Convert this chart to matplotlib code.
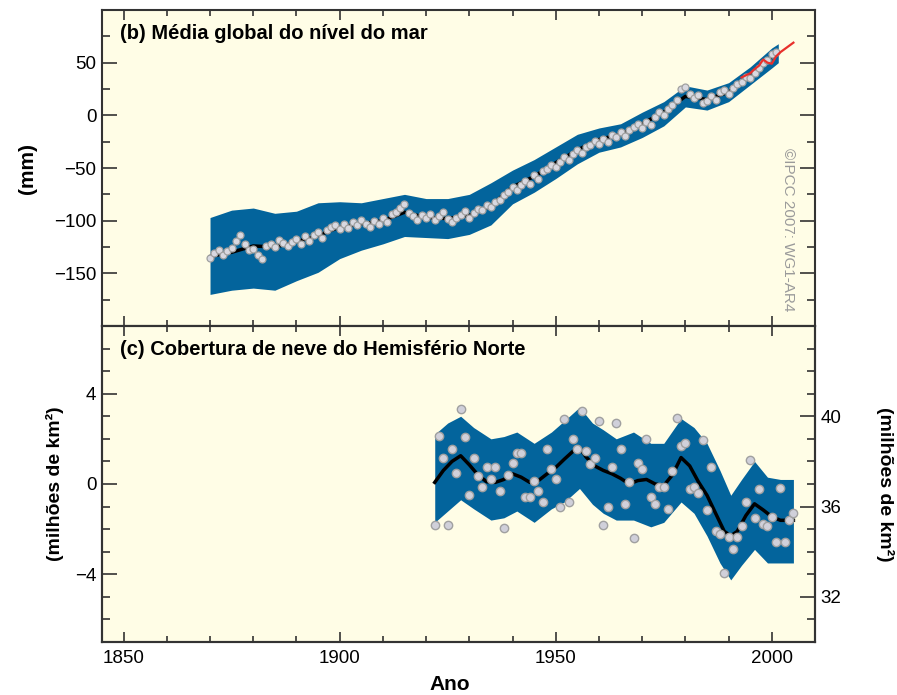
import numpy as np
import matplotlib.pyplot as plt
from matplotlib.ticker import MultipleLocator, FixedLocator

plt.rcParams['font.family'] = ['Liberation Sans', 'DejaVu Sans']

# (b) global mean sea level, mm
seaYears = list(range(1870, 2002))
seaPoints = [-135, -131, -128, -133, -129, -126, -119, -114, -122, -128,
             -127, -133, -136, -124, -122, -125, -118, -121, -124, -120,
             -117, -122, -115, -119, -114, -111, -116, -109, -106, -104,
             -108, -103, -107, -101, -104, -99, -103, -106, -100, -103,
             -97, -101, -94, -92, -88, -84, -93, -96, -99, -95,
             -97, -94, -99, -96, -92, -98, -101, -97, -95, -91,
             -97, -93, -89, -90, -85, -87, -82, -80, -76, -73,
             -68, -71, -66, -62, -65, -57, -60, -53, -51, -47,
             -49, -44, -40, -42, -37, -33, -36, -30, -28, -24,
             -27, -22, -25, -19, -21, -16, -20, -14, -11, -8,
             -12, -6, -9, -2, 3, 0, 6, 10, 15, 25,
             27, 20, 16, 19, 12, 14, 18, 15, 22, 24,
             20, 26, 30, 32, 36, 35, 40, 45, 50, 53,
             58, 60]
seaBandYears = [1870, 1875, 1880, 1885, 1890, 1895, 1900, 1905, 1910, 1915,
                1920, 1925, 1930, 1935, 1940, 1945, 1950, 1955, 1960, 1965,
                1970, 1975, 1980, 1985, 1990, 1995, 2000, 2001.5]
seaMean = [-134, -130, -124, -125, -120, -114, -106, -103, -100, -92,
           -97, -98, -95, -86, -68, -58, -45, -33, -23, -18,
           -8, 3, 18, 15, 22, 38, 56, 60]
seaTop = [-97, -90, -88, -93, -91, -83, -82, -83, -79, -75,
          -79, -79, -75, -64, -52, -42, -30, -18, -12, -8,
          3, 13, 28, 24, 31, 46, 64, 68]
seaBottom = [-170, -166, -164, -166, -157, -149, -136, -128, -122, -115,
             -116, -117, -113, -104, -84, -73, -60, -46, -35, -30,
             -21, -10, 8, 5, 13, 29, 45, 50]
satYears = list(range(1993, 2006))
satLevel = [36, 38, 40, 44, 47, 53, 50, 49, 56, 60, 63, 66, 69]

# (c) Northern Hemisphere snow cover anomaly, million km2
snowYears = list(range(1922, 2006))
snowPoints = [-1.83, 2.12, 1.13, -1.83, 1.57, 0.48, 3.30, 2.08, -0.48, 1.17,
              0.34, -0.12, 0.73, 0.22, 0.73, -0.29, -1.95, 0.40, 0.95, 1.36,
              1.36, -0.59, -0.59, 0.15, -0.29, -0.78, 1.57, 0.66, 0.22, -1.03,
              2.89, -0.81, 1.98, 1.57, 3.22, 1.47, 0.88, 1.13, 2.78, -1.80,
              -1.03, 0.73, 2.71, 1.54, -0.88, 0.10, -2.39, 0.95, 0.66, 2.00,
              -0.59, -0.88, -0.15, -0.15, -1.10, 0.59, 2.93, 1.68, 1.83, -0.22,
              -0.15, -0.41, 1.95, -1.17, 0.73, -2.10, -2.20, -3.96, -2.34, -2.86,
              -2.34, -1.88, -0.78, 1.05, -1.51, -0.22, -1.76, -1.88, -1.47, -2.56,
              -0.19, -2.56, -1.60, -1.27]
snowLineYears = [1922, 1924, 1926, 1928, 1930, 1932, 1934, 1936, 1938, 1940,
                 1942, 1944, 1946, 1948, 1950, 1952, 1954, 1955.5, 1957, 1959,
                 1961, 1963, 1965, 1967, 1969, 1971, 1973, 1975, 1977, 1979,
                 1981, 1983, 1985, 1987, 1989, 1990.5, 1992, 1994, 1996, 1998,
                 2000, 2002, 2005]
snowLine = [0.07, 0.6, 1.0, 1.25, 0.85, 0.4, 0.1, 0.07, 0.2, 0.45,
            0.3, 0.07, 0.15, 0.45, 0.73, 1.1, 1.45, 1.61, 1.2, 0.8,
            0.6, 0.45, 0.25, 0.0, 0.15, 0.2, 0.0, -0.07, 0.4, 1.17,
            0.8, 0.1, -0.5, -1.3, -2.1, -2.3, -2.1, -1.4, -0.88, -1.15,
            -1.45, -1.61, -1.61]
snowBandYears = [1922, 1925, 1928, 1931, 1935, 1938, 1941, 1945, 1949, 1952,
                 1955.5, 1958.5, 1961, 1964, 1968, 1972, 1975, 1979, 1982, 1985,
                 1988, 1990.5, 1993, 1996, 1999, 2002, 2005]
snowTop = [2.2, 2.7, 3.0, 2.5, 2.0, 2.1, 2.3, 1.8, 2.3, 2.8,
           3.4, 2.7, 2.4, 2.0, 2.3, 1.8, 1.8, 2.9, 2.5, 1.8,
           0.6, -0.5, 0.2, 1.0, 0.3, 0.2, 0.2]
snowBottom = [-1.7, -1.2, -0.7, -1.1, -1.6, -1.5, -1.2, -1.7, -1.1, -0.8,
              -0.2, -0.9, -1.3, -1.6, -1.6, -1.9, -1.7, -0.8, -1.3, -2.3,
              -3.5, -4.25, -3.6, -2.9, -3.5, -3.5, -3.5]

bg = '#fffde6'
band = '#03649c'
spineCol = '#333333'

fig = plt.figure(figsize=(8.97, 6.95), dpi=100)
axTop = fig.add_axes([0.1137, 0.5309, 0.7949, 0.4547])
axBot = fig.add_axes([0.1137, 0.0763, 0.7949, 0.4547])
axRight = axBot.twinx()

# panel (b)
axTop.fill_between(seaBandYears, seaBottom, seaTop, color=band, lw=0, zorder=1)
axTop.plot(seaBandYears, seaMean, color='black', lw=2.5, zorder=2)
axTop.plot(seaYears, seaPoints, 'o', ms=5, mfc='#d8d8e0', mec='#a0a0a0', mew=0.9, zorder=3)
axTop.plot(satYears, satLevel, color='#e8302c', lw=1.6, zorder=4)
axTop.set_ylim(-200, 100)
axTop.yaxis.set_major_locator(FixedLocator([-150, -100, -50, 0, 50]))
axTop.yaxis.set_minor_locator(MultipleLocator(25))
axTop.set_ylabel('(mm)', fontsize=15, fontweight='bold', labelpad=12)
axTop.text(0.025, 0.927, '(b) Média global do nível do mar', transform=axTop.transAxes,
           fontsize=14.5, fontweight='bold', va='center', ha='left')
axTop.text(0.962, 0.304, '©IPCC 2007: WG1-AR4', transform=axTop.transAxes,
           fontsize=11, color='#9a9a9a', rotation=-90, va='center', ha='center')
axTop.tick_params(axis='x', labelbottom=False)

# panel (c)
axBot.fill_between(snowBandYears, snowBottom, snowTop, color=band, lw=0, zorder=1)
axBot.plot(snowLineYears, snowLine, color='black', lw=2.5, zorder=2)
axBot.plot(snowYears, snowPoints, 'o', ms=6, mfc='#d0d0da', mec='#a0a0a0', mew=1.0, zorder=3)
axBot.set_ylim(-7, 7)
axBot.yaxis.set_major_locator(MultipleLocator(4))
axBot.yaxis.set_minor_locator(MultipleLocator(1))
axBot.set_ylabel('(milhões de km²)', fontsize=14, fontweight='bold', labelpad=8)
axBot.text(0.025, 0.924, '(c) Cobertura de neve do Hemisfério Norte', transform=axBot.transAxes,
           fontsize=14.5, fontweight='bold', va='center', ha='left')
axRight.set_ylim(30, 44)
axRight.yaxis.set_major_locator(FixedLocator([32, 36, 40]))
axRight.yaxis.set_minor_locator(MultipleLocator(1))
axRight.set_ylabel('(milhões de km²)', fontsize=14, fontweight='bold', rotation=-90, labelpad=38)

for ax in (axTop, axBot):
    ax.set_facecolor(bg)
    ax.set_xlim(1845, 2010)
    ax.xaxis.set_major_locator(MultipleLocator(50))
    ax.xaxis.set_minor_locator(MultipleLocator(10))
    ax.tick_params(axis='x', which='both', direction='in', top=True, bottom=True,
                   color=spineCol, width=1.2, labelsize=13.5, pad=6)
    ax.tick_params(axis='x', which='major', length=7)
    ax.tick_params(axis='x', which='minor', length=4)
    ax.tick_params(axis='y', which='both', direction='in', left=True,
                   right=(ax is axTop), color=spineCol, width=1.2, labelsize=13.5, pad=4)
    ax.tick_params(axis='y', which='major', length=11)
    ax.tick_params(axis='y', which='minor', length=5.5)
    for s in ax.spines.values():
        s.set_linewidth(1.5)
        s.set_color(spineCol)

axRight.tick_params(axis='y', which='both', direction='in', color=spineCol, width=1.2,
                    labelsize=13.5, pad=4)
axRight.tick_params(axis='y', which='major', length=11)
axRight.tick_params(axis='y', which='minor', length=5.5)
for s in axRight.spines.values():
    s.set_linewidth(1.5)
    s.set_color(spineCol)

fig.text(450 / 897, 1 - 685 / 695, 'Ano', fontsize=15, fontweight='bold', ha='center', va='center')

fig.savefig('out.png', dpi=100)
